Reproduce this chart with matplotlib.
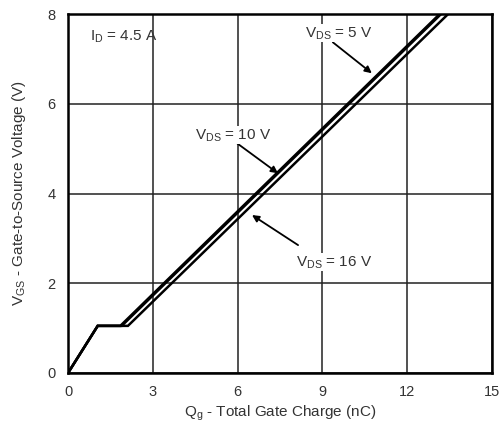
import matplotlib.pyplot as plt

plt.rcParams['font.family'] = ['Liberation Sans', 'DejaVu Sans']

# gate charge curves, I_D = 4.5 A
qg_5v = [0, 1.05, 1.85, 13.15]
vgs_5v = [0, 1.05, 1.05, 8.0]
qg_10v = [0, 1.05, 1.9, 13.2]
vgs_10v = [0, 1.05, 1.05, 8.0]
qg_16v = [0, 1.05, 2.12, 13.45]
vgs_16v = [0, 1.05, 1.05, 8.0]

xticks = [0, 3, 6, 9, 12, 15]
yticks = [0, 2, 4, 6, 8]

fig = plt.figure(figsize=(5.02, 4.25), dpi=100)
ax = fig.add_axes([0.1355, 0.1224, 0.8445, 0.8446])

for q, v in [(qg_5v, vgs_5v), (qg_10v, vgs_10v), (qg_16v, vgs_16v)]:
    ax.plot(q, v, color='black', lw=1.8, solid_joinstyle='miter', zorder=3)

ax.set_xlim(0, 15)
ax.set_ylim(0, 8)
ax.set_xticks(xticks)
ax.set_yticks(yticks)
ax.grid(True, color='#222222', lw=1.1)
ax.tick_params(length=0, pad=9, labelsize=10.5, colors='#333333')
for s in ax.spines.values():
    s.set_linewidth(1.8)

txt = '#333333'
fs = 11
ax.set_xlabel('Q$_\\mathregular{g}$ - Total Gate Charge (nC)', fontsize=fs, color=txt, labelpad=3)
ax.set_ylabel('V$_\\mathregular{GS}$ - Gate-to-Source Voltage (V)', fontsize=fs, color=txt, labelpad=14)

ax.text(0.78, 7.5, 'I$_\\mathregular{D}$ = 4.5 A', fontsize=fs, color=txt, va='center')

arrow = dict(arrowstyle='-|>', color='black', lw=1.3, mutation_scale=10, shrinkA=0, shrinkB=0)
ax.annotate('', xy=(10.75, 6.68), xytext=(9.37, 7.37), arrowprops=arrow)
ax.text(8.38, 7.57, 'V$_\\mathregular{DS}$ = 5 V', fontsize=fs, color=txt, va='center',
        bbox=dict(fc='white', ec='none', pad=0.5))
ax.annotate('', xy=(7.43, 4.45), xytext=(5.98, 5.12), arrowprops=arrow)
ax.text(4.49, 5.3, 'V$_\\mathregular{DS}$ = 10 V', fontsize=fs, color=txt, va='center',
        bbox=dict(fc='white', ec='none', pad=0.5))
ax.annotate('', xy=(6.51, 3.52), xytext=(8.14, 2.85), arrowprops=arrow)
ax.text(8.07, 2.47, 'V$_\\mathregular{DS}$ = 16 V', fontsize=fs, color=txt, va='center',
        bbox=dict(fc='white', ec='none', pad=0.5))

fig.savefig('out.png', dpi=100)
